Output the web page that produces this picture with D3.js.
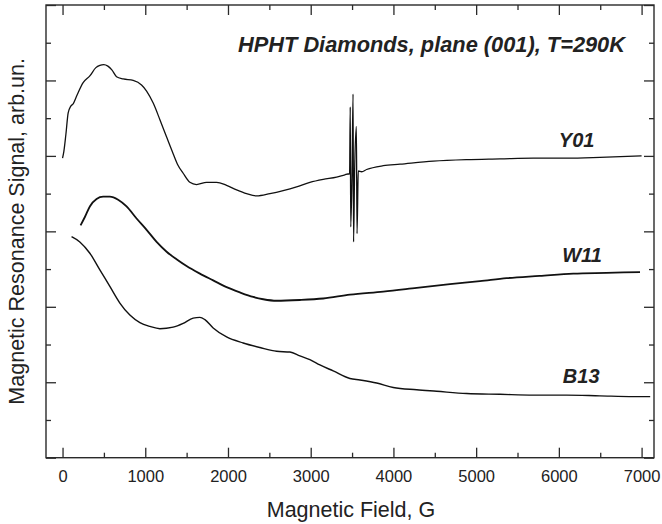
<!DOCTYPE html>
<html>
<head>
<meta charset="utf-8">
<script src="https://cdn.jsdelivr.net/npm/d3@7"></script>
<style>
  body { margin: 0; background: #fff; }
  svg text { font-family: "Liberation Sans", Arial, sans-serif; fill: #222; }
</style>
</head>
<body>
<div id="chart"></div>
<script>
// ---- data (field in G, signal in arb. units) ----
var xTicks = [0, 1000, 2000, 3000, 4000, 5000, 6000, 7000];
var xMinorTicks = [500, 1500, 2500, 3500, 4500, 5500, 6500];
var yTicks = [0, 1, 2, 3, 4, 5, 6];
var yMinorTicks = [0.5, 1.5, 2.5, 3.5, 4.5, 5.5];

var y01Field = [0, 16, 40, 68, 100, 128, 169, 249, 330, 403, 451, 499, 548, 596, 653, 733, 854, 955,
  1016, 1096, 1177, 1258, 1337, 1394, 1458, 1539, 1620, 1741, 1862, 1983, 2104, 2225, 2346, 2507,
  2667, 2829, 2990, 3151, 3313, 3413, 3450,
  3470, 3478, 3484, 3500, 3512, 3518, 3530, 3552, 3560, 3575,
  3616, 3676, 3877, 4079, 4481, 4885, 5288, 5691, 6094, 6496, 7000];
var y01Signal = [3.97, 4.06, 4.28, 4.57, 4.66, 4.69, 4.79, 4.97, 5.06, 5.17, 5.20, 5.21, 5.19, 5.14,
  5.05, 5.02, 5.00, 4.94, 4.86, 4.70, 4.48, 4.25, 4.03, 3.88, 3.77, 3.65, 3.62, 3.65, 3.65, 3.61,
  3.55, 3.50, 3.47, 3.50, 3.54, 3.59, 3.65, 3.69, 3.72, 3.75, 3.76,
  3.76, 4.65, 3.06, 3.78, 4.82, 2.86, 3.75, 4.39, 2.97, 3.80,
  3.79, 3.82, 3.87, 3.89, 3.93, 3.95, 3.96, 3.97, 3.97, 3.98, 4.00];

var w11Field = [218, 270, 330, 411, 491, 572, 672, 774, 895, 1016, 1137, 1258, 1378, 1499, 1660,
  1821, 1983, 2144, 2305, 2426, 2588, 2869, 3151, 3474, 3877, 4281, 4683, 5046, 5369, 5768, 6174,
  6577, 6981];
var w11Signal = [3.08, 3.19, 3.33, 3.43, 3.46, 3.46, 3.42, 3.33, 3.17, 3.02, 2.86, 2.73, 2.63, 2.54,
  2.44, 2.35, 2.26, 2.19, 2.13, 2.10, 2.08, 2.09, 2.11, 2.16, 2.20, 2.25, 2.30, 2.34, 2.38, 2.41,
  2.44, 2.45, 2.46];

var b13Field = [109, 209, 330, 451, 572, 693, 814, 935, 1056, 1177, 1337, 1458, 1579, 1660, 1721,
  1821, 1983, 2184, 2386, 2588, 2749, 2869, 2990, 3111, 3272, 3474, 3595, 3797, 3998, 4281, 4523,
  4885, 5288, 5691, 6094, 6496, 6900, 7104];
var b13Signal = [2.93, 2.86, 2.71, 2.49, 2.27, 2.05, 1.89, 1.79, 1.74, 1.71, 1.73, 1.78, 1.85, 1.86,
  1.83, 1.72, 1.60, 1.52, 1.46, 1.41, 1.40, 1.35, 1.30, 1.23, 1.15, 1.05, 1.03, 0.99, 0.93, 0.90,
  0.88, 0.85, 0.84, 0.83, 0.83, 0.82, 0.81, 0.81];

var seriesNames = ["Y01", "W11", "B13"];
var labelField = [6215, 6280, 6270];
var labelSignal = [4.12, 2.60, 0.99];

// ---- layout ----
var chartW = 662, chartH = 524;
var plotLeft = 46, plotRight = 654, plotTop = 5, plotBottom = 457.7;

var svg = d3.select("#chart").append("svg")
  .attr("width", chartW)
  .attr("height", chartH);

var x = d3.scaleLinear().domain([-200, 7150]).range([plotLeft, plotRight]);
var y = d3.scaleLinear().domain([0, 6]).range([plotBottom, plotTop]);

// frame
svg.append("rect")
  .attr("x", plotLeft).attr("y", plotTop)
  .attr("width", plotRight - plotLeft).attr("height", plotBottom - plotTop)
  .attr("fill", "none").attr("stroke", "#2a2a2a").attr("stroke-width", 1.4);

function addAxis(axis, tx, ty, labels){
  var g = svg.append("g")
    .attr("transform", "translate(" + tx + "," + ty + ")")
    .call(axis);
  g.select(".domain").remove();
  g.selectAll(".tick line").attr("stroke", "#2a2a2a").attr("stroke-width", 1.3);
  if (!labels) g.selectAll(".tick text").remove();
  return g;
}

// bottom axis, ticks inward
var xb = addAxis(d3.axisBottom(x).tickValues(xTicks).tickFormat(d3.format("d"))
  .tickSize(-10).tickPadding(13), 0, plotBottom, true);
xb.selectAll(".tick text")
  .attr("font-size", 16.5)
  .attr("font-family", "Liberation Sans, Arial, sans-serif")
  .attr("fill", "#222");
addAxis(d3.axisBottom(x).tickValues(xMinorTicks).tickSize(-5), 0, plotBottom, false);
// top axis
addAxis(d3.axisTop(x).tickValues(xTicks).tickSize(-10), 0, plotTop, false);
addAxis(d3.axisTop(x).tickValues(xMinorTicks).tickSize(-5), 0, plotTop, false);
// left / right axes, no labels
addAxis(d3.axisLeft(y).tickValues(yTicks).tickSize(-10), plotLeft, 0, false);
addAxis(d3.axisLeft(y).tickValues(yMinorTicks).tickSize(-5), plotLeft, 0, false);
addAxis(d3.axisRight(y).tickValues(yTicks).tickSize(-10), plotRight, 0, false);
addAxis(d3.axisRight(y).tickValues(yMinorTicks).tickSize(-5), plotRight, 0, false);

// curves
var line = d3.line()
  .x(function(d){ return x(d[0]); })
  .y(function(d){ return y(d[1]); })
  .curve(d3.curveMonotoneX);

var curves = [
  d3.zip(y01Field, y01Signal),
  d3.zip(w11Field, w11Signal),
  d3.zip(b13Field, b13Signal)
];
var widths = [1.3, 1.8, 1.4];

svg.selectAll("path.curve")
  .data(curves)
  .enter()
  .append("path")
    .attr("class", "curve")
    .attr("d", line)
    .attr("fill", "none")
    .attr("stroke", "#111")
    .attr("stroke-width", function(d, i){ return widths[i]; });

// series labels
svg.selectAll("text.series")
  .data(seriesNames)
  .enter()
  .append("text")
    .attr("class", "series")
    .attr("x", function(d, i){ return x(labelField[i]); })
    .attr("y", function(d, i){ return y(labelSignal[i]); })
    .attr("text-anchor", "middle")
    .attr("font-size", 20)
    .attr("font-weight", "bold")
    .attr("font-style", "italic")
    .text(function(d){ return d; });

// title inside the plot
svg.append("text")
  .attr("x", 625).attr("y", 52)
  .attr("text-anchor", "end")
  .attr("font-size", 21.8)
  .attr("font-weight", "bold")
  .attr("font-style", "italic")
  .text("HPHT Diamonds, plane (001), T=290K");

// axis titles
svg.append("text")
  .attr("x", 351).attr("y", 517)
  .attr("text-anchor", "middle")
  .attr("font-size", 21.5)
  .text("Magnetic Field, G");

svg.append("text")
  .attr("transform", "translate(24," + ((plotTop + plotBottom) / 2) + ") rotate(-90)")
  .attr("text-anchor", "middle")
  .attr("font-size", 21.5)
  .text("Magnetic Resonance Signal, arb.un.");
</script>
</body>
</html>
